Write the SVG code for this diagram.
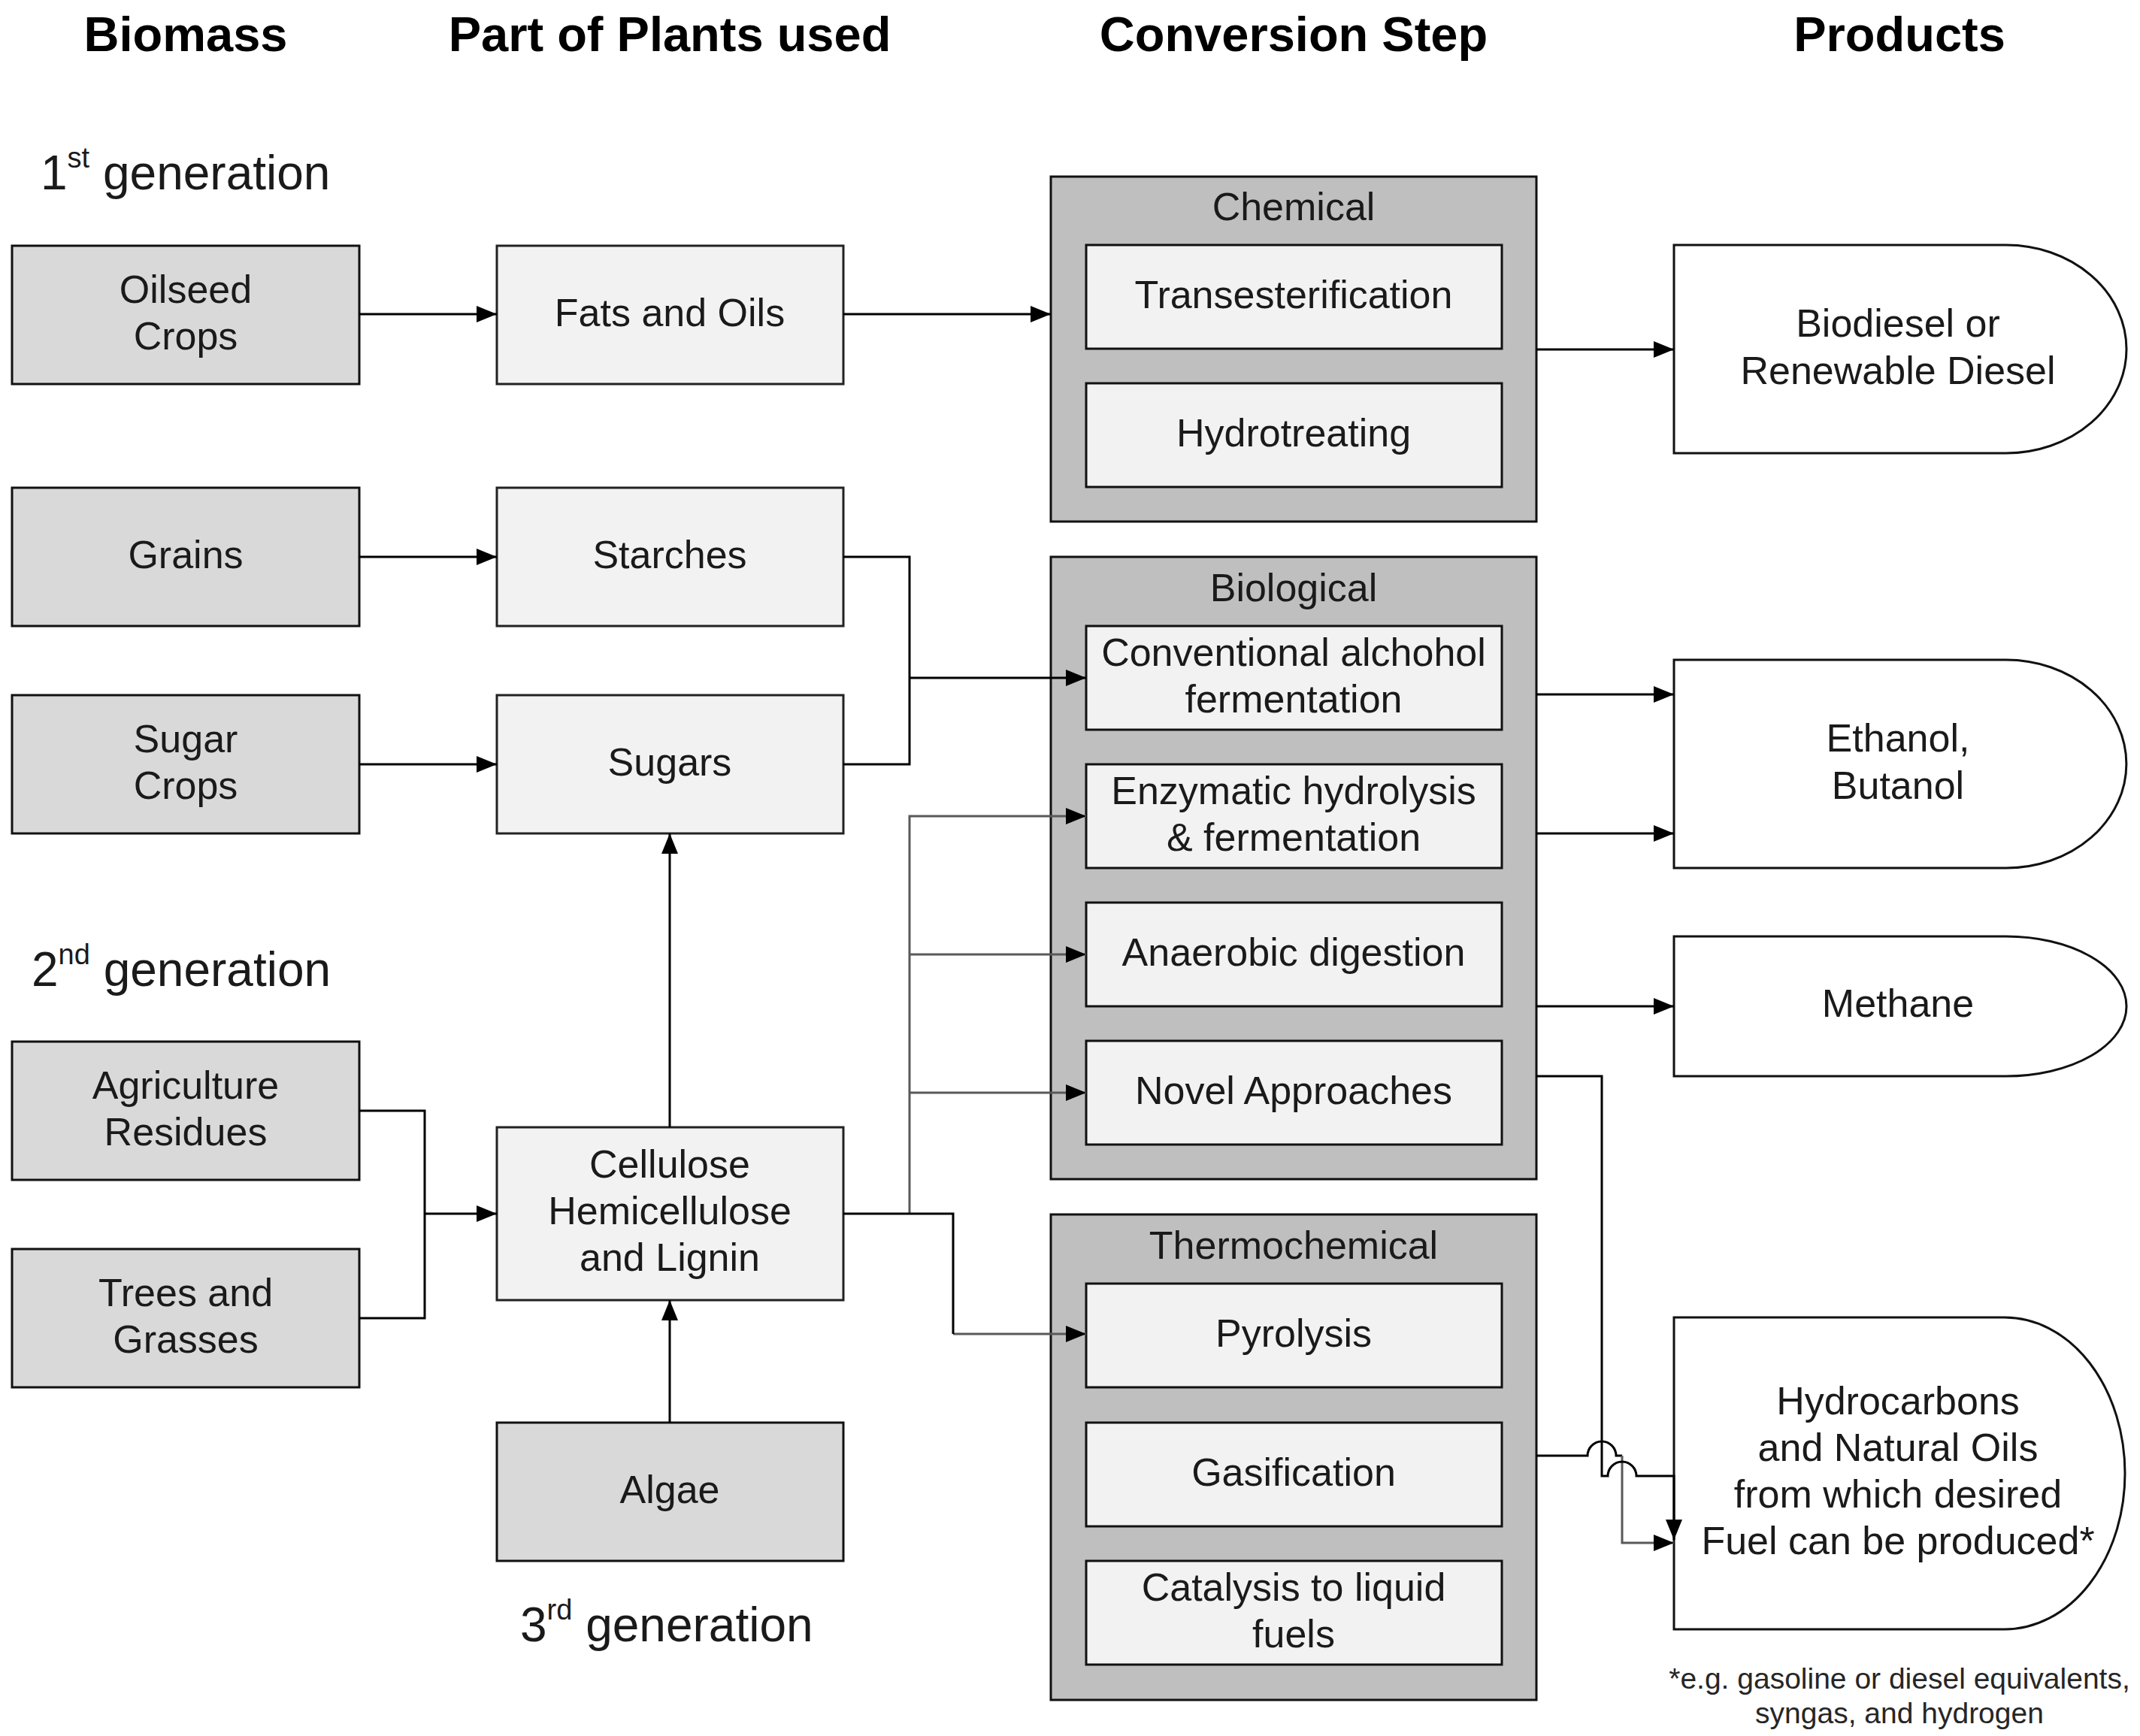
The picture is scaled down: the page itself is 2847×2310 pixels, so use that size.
<svg xmlns="http://www.w3.org/2000/svg" width="2847" height="2310" viewBox="0 0 2847 2310">
<style>
text{font-family:"Liberation Sans",Arial,sans-serif;fill:#1a1a1a;}
.hd{font-size:65px;font-weight:bold;text-anchor:middle;fill:#000;}
.gen{font-size:64px;}
.t{font-size:52px;text-anchor:middle;}
.fn{font-size:39px;text-anchor:middle;fill:#262626;}
.bio{fill:#d9d9d9;stroke:#111;stroke-width:3;}
.part{fill:#f2f2f2;stroke:#222;stroke-width:3;}
.outer{fill:#bfbfbf;stroke:#111;stroke-width:3;}
.inner{fill:#f2f2f2;stroke:#111;stroke-width:3;}
.prod{fill:#fff;stroke:#111;stroke-width:3;}
.c{fill:none;stroke:#000;stroke-width:3;}
.cg{fill:none;stroke:#595959;stroke-width:3;}
</style>
<defs>
<marker id="ah" markerUnits="userSpaceOnUse" markerWidth="28" markerHeight="24" refX="27" refY="11" orient="auto">
<path d="M0,0 L27,11 L0,22 Z" fill="#000"/>
</marker>
</defs>
<rect x="0" y="0" width="2847" height="2310" fill="#fff"/>

<g id="headers">
<text class="hd" x="247" y="68">Biomass</text>
<text class="hd" x="891" y="68">Part of Plants used</text>
<text class="hd" x="1721" y="68">Conversion Step</text>
<text class="hd" x="2527" y="68">Products</text>
</g>

<g id="generation-labels">
<text class="gen" x="54" y="252">1<tspan font-size="38" dy="-29">st</tspan><tspan dy="29"> generation</tspan></text>
<text class="gen" x="42" y="1312">2<tspan font-size="38" dy="-29">nd</tspan><tspan dy="29"> generation</tspan></text>
<text class="gen" x="692" y="2184">3<tspan font-size="38" dy="-29">rd</tspan><tspan dy="29"> generation</tspan></text>
</g>

<g id="biomass-oilseed"><rect class="bio" x="16" y="327" width="462" height="184"/><text class="t" x="247" y="403">Oilseed</text><text class="t" x="247" y="465">Crops</text></g>
<g id="biomass-grains"><rect class="bio" x="16" y="649" width="462" height="184"/><text class="t" x="247" y="756">Grains</text></g>
<g id="biomass-sugarcrops"><rect class="bio" x="16" y="925" width="462" height="184"/><text class="t" x="247" y="1001">Sugar</text><text class="t" x="247" y="1063">Crops</text></g>
<g id="biomass-agriculture"><rect class="bio" x="16" y="1386" width="462" height="184"/><text class="t" x="247" y="1462">Agriculture</text><text class="t" x="247" y="1524">Residues</text></g>
<g id="biomass-trees"><rect class="bio" x="16" y="1662" width="462" height="184"/><text class="t" x="247" y="1738">Trees and</text><text class="t" x="247" y="1800">Grasses</text></g>

<g id="part-fats"><rect class="part" x="661" y="327" width="461" height="184"/><text class="t" x="891" y="434">Fats and Oils</text></g>
<g id="part-starches"><rect class="part" x="661" y="649" width="461" height="184"/><text class="t" x="891" y="756">Starches</text></g>
<g id="part-sugars"><rect class="part" x="661" y="925" width="461" height="184"/><text class="t" x="891" y="1032">Sugars</text></g>
<g id="part-cellulose"><rect class="part" stroke="#555" x="661" y="1500" width="461" height="230"/><text class="t" x="891" y="1567">Cellulose</text><text class="t" x="891" y="1629">Hemicellulose</text><text class="t" x="891" y="1691">and Lignin</text></g>
<g id="biomass-algae"><rect class="bio" x="661" y="1893" width="461" height="184"/><text class="t" x="891" y="2000">Algae</text></g>

<g id="conv-chemical">
<rect class="outer" x="1398" y="235" width="646" height="459"/>
<text class="t" x="1721" y="293">Chemical</text>
<g id="conv-transesterification"><rect class="inner" x="1445" y="326" width="553" height="138"/><text class="t" x="1721" y="410">Transesterification</text></g>
<g id="conv-hydrotreating"><rect class="inner" x="1445" y="510" width="553" height="138"/><text class="t" x="1721" y="594">Hydrotreating</text></g>
</g>

<g id="conv-biological">
<rect class="outer" x="1398" y="741" width="646" height="828"/>
<text class="t" x="1721" y="800">Biological</text>
<g id="conv-conventional"><rect class="inner" x="1445" y="833" width="553" height="138"/><text class="t" x="1721" y="886">Conventional alchohol</text><text class="t" x="1721" y="948">fermentation</text></g>
<g id="conv-enzymatic"><rect class="inner" x="1445" y="1017" width="553" height="138"/><text class="t" x="1721" y="1070">Enzymatic hydrolysis</text><text class="t" x="1721" y="1132">&amp; fermentation</text></g>
<g id="conv-anaerobic"><rect class="inner" x="1445" y="1201" width="553" height="138"/><text class="t" x="1721" y="1285">Anaerobic digestion</text></g>
<g id="conv-novel"><rect class="inner" x="1445" y="1385" width="553" height="138"/><text class="t" x="1721" y="1469">Novel Approaches</text></g>
</g>

<g id="conv-thermochemical">
<rect class="outer" x="1398" y="1616" width="646" height="646"/>
<text class="t" x="1721" y="1675">Thermochemical</text>
<g id="conv-pyrolysis"><rect class="inner" x="1445" y="1708" width="553" height="138"/><text class="t" x="1721" y="1792">Pyrolysis</text></g>
<g id="conv-gasification"><rect class="inner" x="1445" y="1893" width="553" height="138"/><text class="t" x="1721" y="1977">Gasification</text></g>
<g id="conv-catalysis"><rect class="inner" x="1445" y="2077" width="553" height="138"/><text class="t" x="1721" y="2130">Catalysis to liquid</text><text class="t" x="1721" y="2192">fuels</text></g>
</g>

<g id="prod-biodiesel"><path class="prod" d="M2227,326 H2669 A160,138.5 0 0 1 2669,603 H2227 Z"/><text class="t" x="2525" y="448">Biodiesel or</text><text class="t" x="2525" y="511">Renewable Diesel</text></g>
<g id="prod-ethanol"><path class="prod" d="M2227,878 H2669 A160,138.5 0 0 1 2669,1155 H2227 Z"/><text class="t" x="2525" y="1000">Ethanol,</text><text class="t" x="2525" y="1063">Butanol</text></g>
<g id="prod-methane"><path class="prod" d="M2227,1246 H2669 A160,93 0 0 1 2669,1432 H2227 Z"/><text class="t" x="2525" y="1353">Methane</text></g>
<g id="prod-hydrocarbons"><path class="prod" d="M2227,1753 H2667 A160,207.5 0 0 1 2667,2168 H2227 Z"/><text class="t" x="2525" y="1882">Hydrocarbons</text><text class="t" x="2525" y="1944">and Natural Oils</text><text class="t" x="2525" y="2006">from which desired</text><text class="t" x="2525" y="2068">Fuel can be produced*</text></g>

<g id="connectors">
<path class="c" d="M478,418 H661" marker-end="url(#ah)"/>
<path class="c" d="M1122,418 H1398" marker-end="url(#ah)"/>
<path class="c" d="M2044,465 H2227" marker-end="url(#ah)"/>
<path class="c" d="M478,741 H661" marker-end="url(#ah)"/>
<path class="c" d="M478,1017 H661" marker-end="url(#ah)"/>
<path class="c" d="M1122,741 H1210 V1017 H1122"/>
<path class="c" stroke="#333" d="M1210,902 H1445" marker-end="url(#ah)"/>
<path class="c" d="M478,1478 H565 V1754 H478"/>
<path class="c" d="M565,1615 H661" marker-end="url(#ah)"/>
<path class="c" stroke="#333" d="M891,1893 V1730" marker-end="url(#ah)"/>
<path class="c" stroke="#333" d="M891,1500 V1109" marker-end="url(#ah)"/>
<path class="cg" d="M1268,1775 H1445" marker-end="url(#ah)"/>
<path class="cg" d="M1210,1615 V1086 H1445" marker-end="url(#ah)"/>
<path class="cg" d="M1210,1270 H1445" marker-end="url(#ah)"/>
<path class="cg" d="M1210,1454 H1445" marker-end="url(#ah)"/>
<path class="c" d="M1122,1615 H1268 V1775"/>
<path class="c" d="M2044,924 H2227" marker-end="url(#ah)"/>
<path class="c" d="M2044,1109 H2227" marker-end="url(#ah)"/>
<path class="c" d="M2044,1339 H2227" marker-end="url(#ah)"/>
<path class="c" d="M2044,1937 H2112 A19,19 0 0 1 2150,1937 H2158"/>
<path class="cg" d="M2158,1937 V2053 H2227" marker-end="url(#ah)"/>
<path class="c" d="M2044,1432 H2131 V1964 H2139 A19,19 0 0 1 2177,1964 H2227 V2049" marker-end="url(#ah)"/>
</g>

<g id="footnote">
<text class="fn" x="2527" y="2247">*e.g. gasoline or diesel equivalents,</text>
<text class="fn" x="2527" y="2293">syngas, and hydrogen</text>
</g>
</svg>
